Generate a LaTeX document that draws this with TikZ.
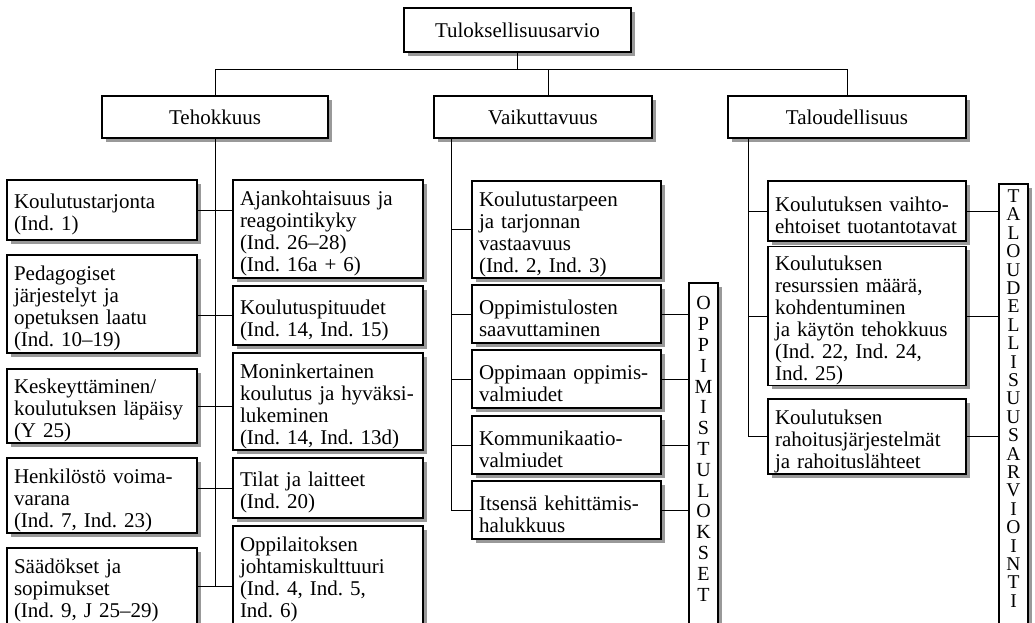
\documentclass[tikz,border=0pt]{standalone}
\usepackage{fontspec}
\setmainfont{Liberation Serif}
\frenchspacing
\newcommand\mainsz{\fontsize{21}{22}\selectfont}
\newcommand\opsz{\fontsize{20}{20.8}\selectfont}
\newcommand\tlsz{\fontsize{19.5}{18.4}\selectfont}
\begin{document}
\begin{tikzpicture}[x=1pt,y=-1pt,
  shad/.style={preaction={draw=none,fill=black!40,transform canvas={xshift=3.5pt,yshift=-3.5pt}}},
  box/.style={draw=black,line width=1.1pt,fill=white,shad,inner xsep=7pt,inner ysep=0pt,font=\mainsz},
  lbox/.style={box,align=left,text height=24pt},
  cbox/.style={box,align=center},
  vbox/.style={box,inner sep=0pt,minimum width=29pt},
  vtext/.style={inner sep=0pt,align=center,anchor=north},
  conn/.style={line width=1pt,draw=black}]
\useasboundingbox (0,0) rectangle (1035,622);
\clip (0,0) rectangle (1035,622);

% top levels
\node[cbox,minimum width=227pt,minimum height=44pt] (top) at (517.5,30) {Tuloksellisuusarvio};
\node[cbox,minimum width=226pt,minimum height=42pt] (teho) at (215,117) {Tehokkuus};
\node[cbox,minimum width=218pt,minimum height=42pt] (vaik) at (543,117) {Vaikuttavuus};
\node[cbox,minimum width=238pt,minimum height=42pt] (talou) at (847,117) {Taloudellisuus};
\coordinate (bus) at (0,69);
\draw[conn] (top.south) -- (top.south |- bus);
\draw[conn] (teho.north) -- (teho.north |- bus) -- (talou.north |- bus) -- (talou.north);
\draw[conn] ([xshift=5pt]vaik.north) -- ([xshift=5pt]vaik.north |- bus);

% Tehokkuus columns
\node[lbox,text width=176pt,minimum height=60pt] (L1) at (102,210) {Koulutustarjonta\\(Ind. 1)};
\node[lbox,text width=176pt,minimum height=98pt] (L2) at (102,304) {Pedagogiset\\järjestelyt ja\\opetuksen laatu\\(Ind. 10–19)};
\node[lbox,text width=176pt,minimum height=74pt] (L3) at (102,406) {Keskeyttäminen/\\koulutuksen läpäisy\\(Y 25)};
\node[lbox,text width=176pt,minimum height=75pt] (L4) at (102,495.5) {Henkilöstö voima-\\varana\\(Ind. 7, Ind. 23)};
\node[lbox,text width=176pt,minimum height=76pt] (L5) at (102,586) {Säädökset ja\\sopimukset\\(Ind. 9, J 25–29)};

\node[lbox,text width=176pt,minimum height=98pt] (M1) at (328,229) {Ajankohtaisuus ja\\reagointikyky\\(Ind. 26–28)\\(Ind. 16a + 6)};
\node[lbox,text width=176pt,minimum height=59pt] (M2) at (328,315.5) {Koulutuspituudet\\(Ind. 14, Ind. 15)};
\node[lbox,text width=176pt,minimum height=97pt] (M3) at (328,401.5) {Moninkertainen\\koulutus ja hyväksi-\\lukeminen\\(Ind. 14, Ind. 13d)};
\node[lbox,text width=176pt,minimum height=60pt] (M4) at (328,488) {Tilat ja laitteet\\(Ind. 20)};
\node[lbox,text width=176pt,minimum height=98pt] (M5) at (328,575) {Oppilaitoksen\\johtamiskulttuuri\\(Ind. 4, Ind. 5,\\Ind. 6)};

\draw[conn] (teho.south) -- (teho.south |- L5.east);
\draw[conn] (L1.east) -- (L1.east -| M1.west);
\draw[conn] (M2.west -| L2.east) -- (M2.west);
\draw[conn] (L3.east) -- (L3.east -| M3.west);
\draw[conn] (M4.west -| L4.east) -- (M4.west);
\draw[conn] (L5.east) -- (L5.east -| M5.west);

% Vaikuttavuus column
\node[lbox,text width=175pt,minimum height=97pt] (V1) at (566.5,229.5) {Koulutustarpeen\\ja tarjonnan\\vastaavuus\\(Ind. 2, Ind. 3)};
\node[lbox,text width=175pt,minimum height=58pt] (V2) at (566.5,314) {Oppimistulosten\\saavuttaminen};
\node[lbox,text width=175pt,minimum height=58pt] (V3) at (566.5,379) {Oppimaan oppimis-\\valmiudet};
\node[lbox,text width=175pt,minimum height=58pt] (V4) at (566.5,445) {Kommunikaatio-\\valmiudet};
\node[lbox,text width=175pt,minimum height=58pt] (V5) at (566.5,510) {Itsensä kehittämis-\\halukkuus};
\node[vbox,minimum height=357pt] (opp) at (703.5,461.5) {};
\node[vtext,font=\opsz] (opptxt) at ([yshift=-14pt]opp.north) {O\\P\\P\\I\\M\\I\\S\\T\\U\\L\\O\\K\\S\\E\\T};

\coordinate (vs) at ([xshift=-92pt]vaik.south);
\draw[conn] (vs) -- (vs |- V5.west);
\foreach \n in {V1,V2,V3,V4,V5} \draw[conn] (vs |- \n.west) -- (\n.west);
\foreach \n in {V2,V3,V4,V5} \draw[conn] (\n.east) -- (\n.east -| opp.west);

% Taloudellisuus column
\node[lbox,text width=184pt,minimum height=60pt] (R1) at (867,211) {Koulutuksen vaihto-\\ehtoiset tuotantotavat};
\node[lbox,text width=184pt,minimum height=132pt] (R2) at (867,316) {Koulutuksen\\resurssien määrä,\\kohdentuminen\\ja käytön tehokkuus\\(Ind. 22, Ind. 24,\\Ind. 25)};
\node[lbox,text width=184pt,minimum height=75pt] (R3) at (867,436.5) {Koulutuksen\\rahoitusjärjestelmät\\ja rahoituslähteet};
\node[vbox,minimum height=456pt] (tal) at (1013.5,412) {};
\node[vtext,font=\tlsz] (taltxt) at ([yshift=-6pt]tal.north) {T\\A\\L\\O\\U\\D\\E\\L\\L\\I\\S\\U\\U\\S\\A\\R\\V\\I\\O\\I\\N\\T\\I};

\coordinate (ts) at ([xshift=-99pt]talou.south);
\draw[conn] (ts) -- (ts |- R3.west);
\foreach \n in {R1,R2,R3} \draw[conn] (ts |- \n.west) -- (\n.west);
\foreach \n in {R1,R2,R3} \draw[conn] (\n.east) -- (\n.east -| tal.west);
\end{tikzpicture}
\end{document}
